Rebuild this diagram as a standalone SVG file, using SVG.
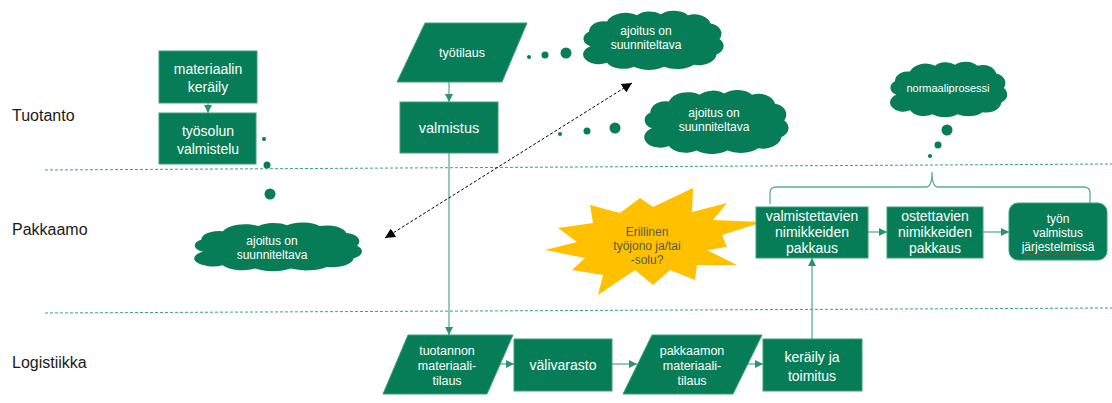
<svg xmlns="http://www.w3.org/2000/svg" xmlns:xlink="http://www.w3.org/1999/xlink" width="1112" height="403" viewBox="0 0 1112 403">
  <style>
    .box { fill: #077d57; stroke: #3f9f7d; stroke-width: 1; }
    .cloud { fill: #077d57; }
    .dot { fill: #077d57; }
    .wt { font-family: "Liberation Sans", Arial, sans-serif; fill: #ffffff; text-anchor: middle; }
    .lane { stroke: #3aa27e; stroke-width: 1; stroke-dasharray: 3 2; fill: none; }
    .lbl { font-family: "Liberation Sans", Arial, sans-serif; font-size: 16px; fill: #1a1a1a; }
    .conn { stroke: #5cae8f; stroke-width: 1.3; fill: none; }
    .link { stroke: #000000; stroke-width: 1; stroke-dasharray: 3 2; fill: none; }
  </style>
  <defs>
    <marker id="arr" viewBox="0 0 10 10" refX="10" refY="5" markerWidth="8" markerHeight="8" markerUnits="userSpaceOnUse" orient="auto">
      <path d="M0,0 L10,5 L0,10 z" fill="#2c9370"/>
    </marker>
    <marker id="blk" viewBox="0 0 10 10" refX="10" refY="5" markerWidth="10" markerHeight="10" markerUnits="userSpaceOnUse" orient="auto-start-reverse">
      <path d="M0,0 L10,5 L0,10 z" fill="#000000"/>
    </marker>
    <symbol id="cloudShape" viewBox="0 0 100 60" preserveAspectRatio="none">
      <path class="cloud" d="M9,36 A8,8 0 0 1 8,22 A10,10 0 0 1 20,12 A13,12 0 0 1 40,6 A11,10 0 0 1 56,5 A12,11 0 0 1 74,6 A11,11 0 0 1 89,14 A9,10 0 0 1 95,29 A8,9 0 0 1 93,44 A12,11 0 0 1 78,54 A14,10 0 0 1 58,56 A14,10 0 0 1 38,56 A12,10 0 0 1 20,52 A10,9 0 0 1 9,36 Z"/>
    </symbol>
  </defs>

  <!-- swimlane separators and lane titles -->
  <g id="lanes">
    <line class="lane" x1="45" y1="170" x2="1112" y2="164"/>
    <line class="lane" x1="45" y1="313" x2="1112" y2="308"/>
    <text class="lbl" x="12" y="121">Tuotanto</text>
    <text class="lbl" x="12" y="235">Pakkaamo</text>
    <text class="lbl" x="12" y="368">Logistiikka</text>
  </g>

  <!-- connectors -->
  <g id="connectors">
    <line class="conn" x1="208" y1="103" x2="208" y2="113" marker-end="url(#arr)"/>
    <line class="conn" x1="449" y1="82" x2="449" y2="102" marker-end="url(#arr)"/>
    <line class="conn" x1="449" y1="153" x2="449" y2="335" marker-end="url(#arr)"/>
    <line class="conn" x1="500" y1="364" x2="514" y2="364" marker-end="url(#arr)"/>
    <line class="conn" x1="612" y1="364" x2="637" y2="364" marker-end="url(#arr)"/>
    <line class="conn" x1="747" y1="364" x2="763" y2="364" marker-end="url(#arr)"/>
    <line class="conn" x1="812" y1="339" x2="812" y2="258" marker-end="url(#arr)"/>
    <line class="conn" x1="868" y1="232" x2="887" y2="232" marker-end="url(#arr)"/>
    <line class="conn" x1="983" y1="232" x2="1009" y2="232" marker-end="url(#arr)"/>
    <path class="conn" d="M770,204 L770,193 Q770,187 776,187 L926,187 Q932,187 932,172 Q932,187 938,187 L1084,187 Q1090,187 1090,193 L1090,204"/>
    <line class="link" x1="385" y1="238" x2="632" y2="83" marker-start="url(#blk)" marker-end="url(#blk)"/>
  </g>

  <!-- production lane -->
  <g id="materiaalin-keraily">
    <rect class="box" x="159" y="51" width="98" height="52"/>
    <text class="wt" font-size="14" x="208" y="74">materiaalin</text>
    <text class="wt" font-size="14" x="208" y="92">keräily</text>
  </g>
  <g id="tyosolun-valmistelu">
    <rect class="box" x="159" y="113" width="97" height="51"/>
    <text class="wt" font-size="14" x="208" y="136">työsolun</text>
    <text class="wt" font-size="14" x="208" y="154">valmistelu</text>
  </g>
  <g id="tyotilaus">
    <polygon class="box" points="425,23 527,23 502,82 397,82"/>
    <text class="wt" font-size="12.5" x="462" y="57">työtilaus</text>
  </g>
  <g id="valmistus">
    <rect class="box" x="400" y="102" width="98" height="51"/>
    <text class="wt" font-size="14.5" x="449" y="133">valmistus</text>
  </g>

  <!-- thought clouds -->
  <g id="cloud-tyotilaus">
    <circle class="dot" cx="529" cy="57" r="2"/>
    <circle class="dot" cx="545" cy="55" r="3.5"/>
    <circle class="dot" cx="566" cy="53" r="5.5"/>
    <use xlink:href="#cloudShape" x="577" y="9" width="150" height="62"/>
    <text class="wt" font-size="12" x="646" y="35">ajoitus on</text>
    <text class="wt" font-size="12" x="646" y="49">suunniteltava</text>
  </g>
  <g id="cloud-valmistus">
    <circle class="dot" cx="560" cy="134" r="2"/>
    <circle class="dot" cx="587" cy="131" r="3.5"/>
    <circle class="dot" cx="615" cy="128" r="5.5"/>
    <use xlink:href="#cloudShape" x="638" y="88" width="154" height="67"/>
    <text class="wt" font-size="12" x="714" y="117">ajoitus on</text>
    <text class="wt" font-size="12" x="714" y="131">suunniteltava</text>
  </g>
  <g id="cloud-tyosolu">
    <circle class="dot" cx="264" cy="139" r="2"/>
    <circle class="dot" cx="267" cy="165" r="3.5"/>
    <circle class="dot" cx="270" cy="194" r="5.5"/>
    <use xlink:href="#cloudShape" x="187" y="221" width="179" height="51"/>
    <text class="wt" font-size="12" x="272" y="245">ajoitus on</text>
    <text class="wt" font-size="12" x="272" y="259">suunniteltava</text>
  </g>
  <g id="cloud-normaali">
    <circle class="dot" cx="947" cy="130" r="5.5"/>
    <circle class="dot" cx="938" cy="145" r="3.5"/>
    <circle class="dot" cx="930" cy="156" r="2"/>
    <use xlink:href="#cloudShape" x="885" y="60" width="125" height="58"/>
    <text class="wt" font-size="11" x="948" y="92">normaaliprosessi</text>
  </g>

  <!-- packing lane -->
  <g id="erillinen">
    <polygon fill="#ffc000" points="545,250 577,242 558,228 593,223 590,205 620,213 640,198 653,207 693,188 692,212 727,203 713,220 763,222 722,235 727,247 707,250 737,265 697,265 695,280 670,270 653,285 635,270 598,295 603,275 572,270 585,258"/>
    <text font-family="Liberation Sans, Arial, sans-serif" font-size="12" fill="#595959" text-anchor="middle" x="647" y="236">Erillinen</text>
    <text font-family="Liberation Sans, Arial, sans-serif" font-size="12" fill="#595959" text-anchor="middle" x="647" y="250">työjono ja/tai</text>
    <text font-family="Liberation Sans, Arial, sans-serif" font-size="12" fill="#595959" text-anchor="middle" x="647" y="264">-solu?</text>
  </g>
  <g id="valmistettavien-pakkaus">
    <rect class="box" x="756" y="207" width="112" height="51"/>
    <text class="wt" font-size="14" x="812" y="221">valmistettavien</text>
    <text class="wt" font-size="14" x="812" y="237">nimikkeiden</text>
    <text class="wt" font-size="14" x="812" y="253">pakkaus</text>
  </g>
  <g id="ostettavien-pakkaus">
    <rect class="box" x="887" y="207" width="96" height="51"/>
    <text class="wt" font-size="14" x="935" y="221">ostettavien</text>
    <text class="wt" font-size="14" x="935" y="237">nimikkeiden</text>
    <text class="wt" font-size="14" x="935" y="253">pakkaus</text>
  </g>
  <g id="tyon-valmistus">
    <rect class="box" x="1009" y="203" width="98" height="57" rx="9" ry="9"/>
    <text class="wt" font-size="12" x="1058" y="223">työn</text>
    <text class="wt" font-size="12" x="1058" y="237">valmistus</text>
    <text class="wt" font-size="12" x="1058" y="251">järjestelmissä</text>
    <path d="M1020,254 q1.5,-1.5 3,0 t3,0 t3,0 t3,0 t3,0 t3,0 t3,0 t3,0 t3,0 t3,0 t3,0 t3,0 t3,0 t3,0 t3,0 t3,0 t3,0 t3,0 t3,0 t3,0 t3,0" fill="none" stroke="#d0312d" stroke-width="0.8"/>
  </g>

  <!-- logistics lane -->
  <g id="tuotannon-tilaus">
    <polygon class="box" points="408,335 513,335 487,394 383,394"/>
    <text class="wt" font-size="12.5" x="447" y="355">tuotannon</text>
    <text class="wt" font-size="12.5" x="447" y="370">materiaali-</text>
    <text class="wt" font-size="12.5" x="447" y="385">tilaus</text>
  </g>
  <g id="valivarasto">
    <rect class="box" x="514" y="339" width="98" height="52"/>
    <text class="wt" font-size="14" x="563" y="370">välivarasto</text>
  </g>
  <g id="pakkaamon-tilaus">
    <polygon class="box" points="652,335 762,335 733,394 623,394"/>
    <text class="wt" font-size="12.5" x="692" y="355">pakkaamon</text>
    <text class="wt" font-size="12.5" x="692" y="370">materiaali-</text>
    <text class="wt" font-size="12.5" x="692" y="385">tilaus</text>
  </g>
  <g id="keraily-toimitus">
    <rect class="box" x="763" y="339" width="99" height="52"/>
    <text class="wt" font-size="14" x="812" y="362">keräily ja</text>
    <text class="wt" font-size="14" x="812" y="381">toimitus</text>
  </g>
</svg>
